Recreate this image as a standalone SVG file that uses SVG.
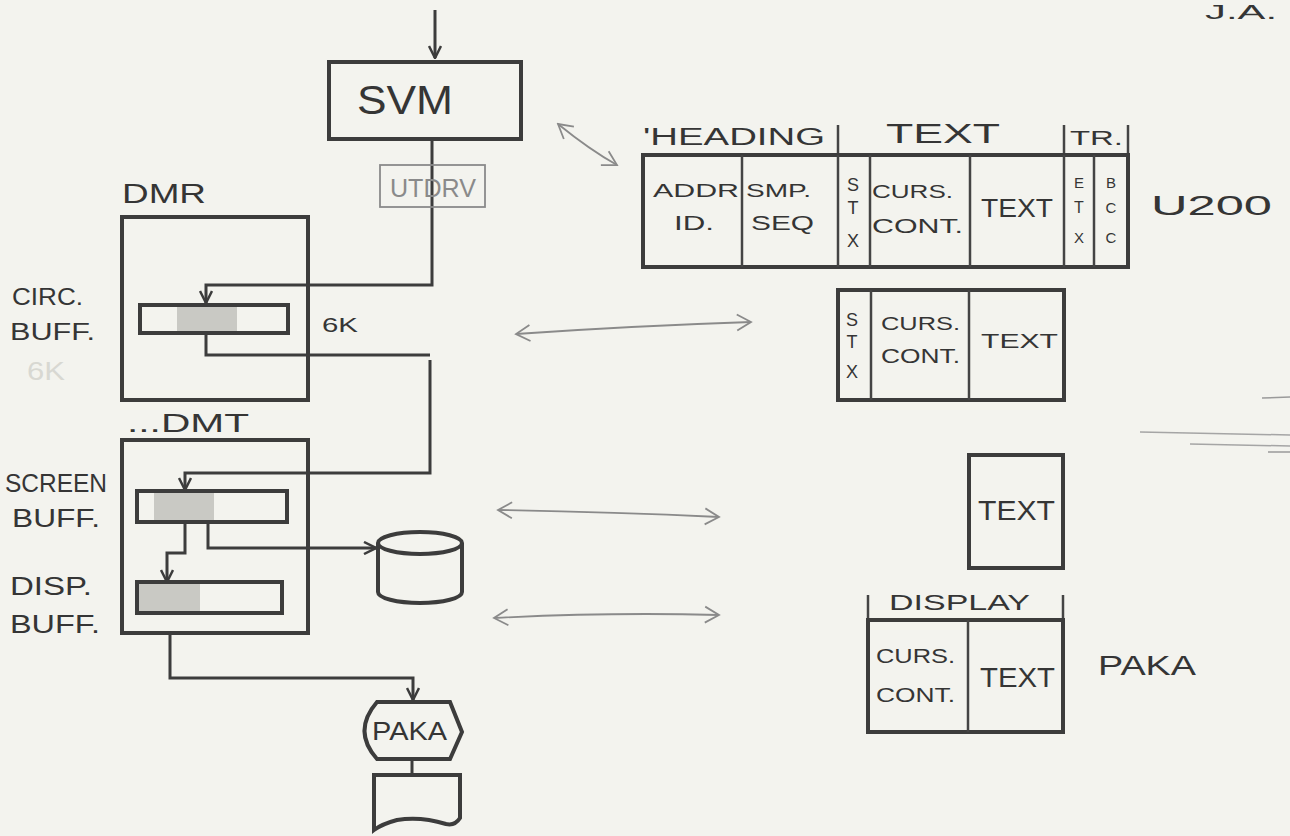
<svg xmlns="http://www.w3.org/2000/svg" width="1290" height="836" viewBox="0 0 1290 836">
<style>
.bg{fill:#f3f3ee}
.box{fill:none;stroke:#3c3c3c;stroke-width:4}
.cell{fill:none;stroke:#444;stroke-width:2.5}
.ln{fill:none;stroke:#3c3c3c;stroke-width:3}
.thin{fill:none;stroke:#8a8a8a;stroke-width:1.8}
.shade{fill:#c9c9c4}
.t{font-family:"Liberation Sans",Arial,sans-serif;fill:#353535}
.g{font-family:"Liberation Sans",Arial,sans-serif;fill:#8a8a8a}
</style>
<defs>
<marker id="v" viewBox="0 0 14 14" refX="13" refY="7" markerWidth="14" markerHeight="14" markerUnits="userSpaceOnUse" orient="auto">
<path d="M1 1 L13 7 L1 13" fill="none" stroke="#3c3c3c" stroke-width="2.5"/>
</marker>
<marker id="o" viewBox="0 0 20 20" refX="18" refY="10" markerWidth="20" markerHeight="20" markerUnits="userSpaceOnUse" orient="auto-start-reverse">
<path d="M4 2 L18 10 L4 18" fill="none" stroke="#8a8a8a" stroke-width="1.8"/>
</marker>
</defs>
<rect class="bg" x="0" y="0" width="1290" height="836"/>

<g id="connectors">
<line class="ln" x1="435" y1="10" x2="435" y2="58" marker-end="url(#v)"/>
<polyline class="ln" points="432,140 432,285 206,285 206,303" marker-end="url(#v)"/>
<polyline class="ln" points="206,333 206,355 430,355"/>
<polyline class="ln" points="430,360 430,473 185,473 185,490" marker-end="url(#v)"/>
<polyline class="ln" points="185,522 185,553 167,553 167,582" marker-end="url(#v)"/>
<polyline class="ln" points="208,522 208,548 376,548" marker-end="url(#v)"/>
<polyline class="ln" points="170,633 170,678 413,678 413,700" marker-end="url(#v)"/>
<line class="ln" x1="412" y1="759" x2="412" y2="775"/>
<path class="thin" d="M558 124 Q590 150 617 165" marker-start="url(#o)" marker-end="url(#o)"/>
<path class="thin" d="M516 334 Q630 326 751 322" marker-start="url(#o)" marker-end="url(#o)"/>
<path class="thin" d="M498 510 Q610 512 719 517" marker-start="url(#o)" marker-end="url(#o)"/>
<path class="thin" d="M494 618 Q610 612 719 615" marker-start="url(#o)" marker-end="url(#o)"/>
</g>

<g id="svm">
<rect class="box" x="329" y="62" width="192" height="77"/>
<text class="t" x="357" y="114" font-size="40" textLength="96" lengthAdjust="spacingAndGlyphs">SVM</text>
</g>

<g id="utdrv">
<rect x="380" y="165" width="105" height="42" fill="none" stroke="#8a8a8a" stroke-width="1.8"/>
<text class="g" x="390" y="197" font-size="26" textLength="86" lengthAdjust="spacingAndGlyphs">UTDRV</text>
</g>

<g id="dmr">
<text class="t" x="122" y="203" font-size="27" textLength="84" lengthAdjust="spacingAndGlyphs">DMR</text>
<rect class="box" x="122" y="217" width="186" height="183"/>
<rect class="shade" x="177" y="307" width="60" height="24"/>
<rect class="box" x="140" y="305" width="148" height="28"/>
<text class="t" x="322" y="332" font-size="21" textLength="36" lengthAdjust="spacingAndGlyphs">6K</text>
<text class="t" x="12" y="305" font-size="24" textLength="71" lengthAdjust="spacingAndGlyphs">CIRC.</text>
<text class="t" x="10" y="340" font-size="24" textLength="85" lengthAdjust="spacingAndGlyphs">BUFF.</text>
<text x="27" y="380" font-size="26" textLength="38" lengthAdjust="spacingAndGlyphs" font-family="Liberation Sans, Arial, sans-serif" fill="#d8d8d2">6K</text>
</g>

<g id="dmt">
<text class="t" x="127" y="432" font-size="26" textLength="122" lengthAdjust="spacingAndGlyphs">...DMT</text>
<rect class="box" x="122" y="440" width="186" height="193"/>
<rect class="shade" x="154" y="493" width="60" height="27"/>
<rect class="box" x="137" y="491" width="150" height="31"/>
<rect class="shade" x="139" y="584" width="61" height="27"/>
<rect class="box" x="137" y="582" width="145" height="31"/>
<text class="t" x="5" y="492" font-size="26" textLength="102" lengthAdjust="spacingAndGlyphs">SCREEN</text>
<text class="t" x="12" y="527" font-size="25" textLength="88" lengthAdjust="spacingAndGlyphs">BUFF.</text>
<text class="t" x="10" y="595" font-size="26" textLength="82" lengthAdjust="spacingAndGlyphs">DISP.</text>
<text class="t" x="10" y="633" font-size="25" textLength="90" lengthAdjust="spacingAndGlyphs">BUFF.</text>
</g>

<g id="disk">
<path class="box" d="M378 543 A42 11 0 0 1 462 543 V592 A42 11 0 0 1 378 592 Z"/>
<path class="box" d="M378 543 A42 11 0 0 0 462 543"/>
</g>

<g id="paka-display">
<path class="box" d="M377 702 L450 702 L462 732 L450 759 L377 759 Q352 731 377 702 Z"/>
<text class="t" x="372" y="740" font-size="26" textLength="75" lengthAdjust="spacingAndGlyphs">PAKA</text>
</g>

<g id="paka-document">
<path class="box" d="M374 775 H460 V818 Q455 826 446 824 Q420 816 397 820 Q382 824 374 830 Z"/>
</g>

<g id="u200-frame">
<text class="t" x="643" y="145" font-size="23" textLength="182" lengthAdjust="spacingAndGlyphs">'HEADING</text>
<line class="cell" x1="838" y1="125" x2="838" y2="155"/>
<text class="t" x="886" y="143" font-size="27" textLength="114" lengthAdjust="spacingAndGlyphs">TEXT</text>
<line class="cell" x1="1064" y1="125" x2="1064" y2="155"/>
<text class="t" x="1070" y="145" font-size="21" textLength="53" lengthAdjust="spacingAndGlyphs">TR.</text>
<line class="cell" x1="1128" y1="125" x2="1128" y2="155"/>
<path class="box" d="M643 155 H1128 V267 H643 Z"/>
<line class="cell" x1="742" y1="155" x2="742" y2="267"/>
<line class="cell" x1="838" y1="155" x2="838" y2="267"/>
<line class="cell" x1="870" y1="155" x2="870" y2="267"/>
<line class="cell" x1="970" y1="155" x2="970" y2="267"/>
<line class="cell" x1="1064" y1="155" x2="1064" y2="267"/>
<line class="cell" x1="1094" y1="155" x2="1094" y2="267"/>
<text class="t" x="653" y="197" font-size="19" textLength="86" lengthAdjust="spacingAndGlyphs">ADDR</text>
<text class="t" x="674" y="230" font-size="20" textLength="40" lengthAdjust="spacingAndGlyphs">ID.</text>
<text class="t" x="746" y="197" font-size="19" textLength="65" lengthAdjust="spacingAndGlyphs">SMP.</text>
<text class="t" x="751" y="230" font-size="21" textLength="63" lengthAdjust="spacingAndGlyphs">SEQ</text>
<text class="t" x="853" y="191" font-size="18" text-anchor="middle">S</text>
<text class="t" x="853" y="214" font-size="18" text-anchor="middle">T</text>
<text class="t" x="853" y="247" font-size="18" text-anchor="middle">X</text>
<text class="t" x="872" y="198" font-size="19" textLength="81" lengthAdjust="spacingAndGlyphs">CURS.</text>
<text class="t" x="872" y="233" font-size="20" textLength="91" lengthAdjust="spacingAndGlyphs">CONT.</text>
<text class="t" x="981" y="217" font-size="25" textLength="72" lengthAdjust="spacingAndGlyphs">TEXT</text>
<text class="t" x="1079" y="188" font-size="15" text-anchor="middle">E</text>
<text class="t" x="1079" y="213" font-size="16" text-anchor="middle">T</text>
<text class="t" x="1079" y="243" font-size="15" text-anchor="middle">X</text>
<text class="t" x="1111" y="188" font-size="15" text-anchor="middle">B</text>
<text class="t" x="1111" y="213" font-size="15" text-anchor="middle">C</text>
<text class="t" x="1111" y="243" font-size="15" text-anchor="middle">C</text>
<text class="t" x="1151" y="215" font-size="28" textLength="121" lengthAdjust="spacingAndGlyphs">U200</text>
</g>

<g id="dmr-frame">
<path class="box" d="M838 290 H1064 V400 H838 Z"/>
<line class="cell" x1="871" y1="290" x2="871" y2="400"/>
<line class="cell" x1="969" y1="290" x2="969" y2="400"/>
<text class="t" x="852" y="326" font-size="18" text-anchor="middle">S</text>
<text class="t" x="852" y="348" font-size="18" text-anchor="middle">T</text>
<text class="t" x="852" y="378" font-size="18" text-anchor="middle">X</text>
<text class="t" x="881" y="330" font-size="19" textLength="79" lengthAdjust="spacingAndGlyphs">CURS.</text>
<text class="t" x="881" y="363" font-size="20" textLength="79" lengthAdjust="spacingAndGlyphs">CONT.</text>
<text class="t" x="981" y="348" font-size="21" textLength="77" lengthAdjust="spacingAndGlyphs">TEXT</text>
</g>

<g id="screen-frame">
<path class="box" d="M969 455 H1063 V568 H969 Z"/>
<text class="t" x="978" y="520" font-size="28" textLength="77" lengthAdjust="spacingAndGlyphs">TEXT</text>
</g>

<g id="display-frame">
<text class="t" x="889" y="610" font-size="22" textLength="141" lengthAdjust="spacingAndGlyphs">DISPLAY</text>
<line class="cell" x1="868" y1="595" x2="868" y2="620"/>
<line class="cell" x1="1063" y1="595" x2="1063" y2="620"/>
<path class="box" d="M868 620 H1063 V732 H868 Z"/>
<line class="cell" x1="968" y1="620" x2="968" y2="732"/>
<text class="t" x="876" y="663" font-size="20" textLength="79" lengthAdjust="spacingAndGlyphs">CURS.</text>
<text class="t" x="876" y="702" font-size="20" textLength="79" lengthAdjust="spacingAndGlyphs">CONT.</text>
<text class="t" x="980" y="687" font-size="28" textLength="75" lengthAdjust="spacingAndGlyphs">TEXT</text>
<text class="t" x="1098" y="675" font-size="28" textLength="98" lengthAdjust="spacingAndGlyphs">PAKA</text>
</g>

<g id="marks">
<text class="t" x="1205" y="19" font-size="20" textLength="72" lengthAdjust="spacingAndGlyphs">J.A.</text>
<line x1="1262" y1="398" x2="1290" y2="397" stroke="#9a9a9a" stroke-width="1.5"/>
<line x1="1140" y1="432" x2="1290" y2="435" stroke="#a5a5a5" stroke-width="1.5"/>
<line x1="1190" y1="444" x2="1290" y2="446" stroke="#a5a5a5" stroke-width="1.5"/>
<line x1="1268" y1="452" x2="1290" y2="452" stroke="#9a9a9a" stroke-width="1.5"/>
</g>
</svg>
